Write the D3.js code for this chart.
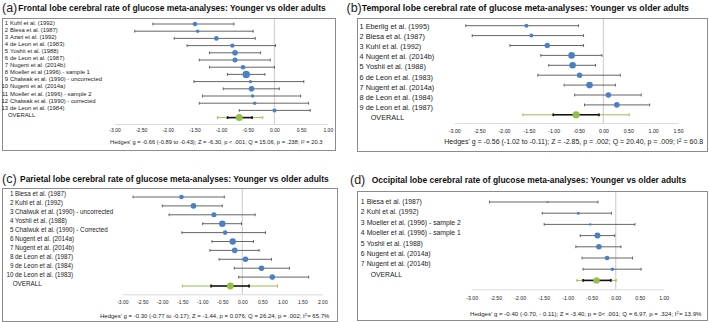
<!DOCTYPE html>
<html lang="en">
<head>
<meta charset="UTF-8">
<title>Cerebral glucose meta-analyses</title>
<script src="https://cdn.jsdelivr.net/npm/d3@7"></script>
<style>
  body { margin: 0; background: #fff; }
  svg { display: block; font-family: "Liberation Sans", Arial, sans-serif; }
</style>
</head>
<body>
<script>
// ---- data ----
// overall rows are [g, ciLow, ciHigh, piLow, piHigh]
const frontalStudies = ["Kuhl et al. (1992)", "Blesa et al. (1987)", "Azari et al. (1992)", "de Leon et al. (1983)",
    "Yoshii et al. (1988)", "de Leon et al. (1987)", "Nugent et al. (2014b)", "Moeller et al (1996) - sample 1",
    "Chalwak et al. (1990) - uncorrected", "Nugent et al. (2014a)", "Moeller et al. (1996) - sample 2",
    "Chalwak et al. (1990) - corrected", "de Leon et al. (1984)"];
const frontalG  = [-1.49, -1.44, -1.09, -0.79, -0.74, -0.74, -0.59, -0.53, -0.45, -0.43, -0.41, -0.37, 0.00];
const frontalLo = [-2.28, -2.62, -1.88, -1.64, -1.22, -1.41, -1.22, -0.88, -1.51, -0.96, -1.35, -1.41, -0.66];
const frontalHi = [-0.76, -0.40, -0.36, 0.02, -0.26, -0.08, 0.00, -0.18, 0.55, 0.09, 0.49, 0.64, 0.67];
const frontalW  = [7.4, 4.0, 7.4, 6.7, 10.9, 8.7, 7.4, 19.0, 4.0, 10.9, 4.0, 4.0, 5.6];
const frontalOverall = [-0.66, -0.88, -0.42, -1.07, -0.22];
const frontalTicks = [-3, -2.5, -2, -1.5, -1, -0.5, 0, 0.5, 1];
const frontalStats = ["Hedges' g = -0.66 (-0.89 to -0.43); Z = -6.30, p < .001; Q = 15.06, p = .238; I", " = 20.3"];

const temporalStudies = ["Eberlig et al. (1995)", "Blesa et al. (1987)", "Kuhl et al. (1992)", "Nugent et al. (2014b)",
    "Yoshii et al. (1988)", "de Leon et al. (1983)", "Nugent et al. (2014a)", "de Leon et al. (1984)", "de Leon et al. (1987)"];
const temporalG  = [-1.55, -1.45, -1.13, -0.64, -0.62, -0.48, -0.28, 0.10, 0.27];
const temporalLo = [-2.77, -2.64, -1.88, -1.26, -1.10, -1.32, -0.79, -0.58, -0.38];
const temporalHi = [-0.50, -0.40, -0.40, -0.03, -0.16, 0.34, 0.24, 0.76, 0.93];
const temporalW  = [5.6, 5.6, 10.3, 15.4, 15.4, 10.3, 15.4, 11, 11];
const temporalOverall = [-0.55, -1.01, -0.09, -1.62, 0.52];
const temporalTicks = [-3, -2.5, -2, -1.5, -1, -0.5, 0, 0.5, 1, 1.5];
const temporalStats = ["Hedges' g = -0.56 (-1.02 to -0.11); Z = -2.85, p = .002; Q = 20.40, p = .009; I", " = 60.8"];

const parietalStudies = ["Blesa et al. (1987)", "Kuhl et al. (1992)", "Chalwuk et al. (1990) - uncorrected",
    "Yoshii et al. (1988)", "Chalwuk et al. (1990) - Corrected", "Nugent et al. (2014a)", "Nugent et al. (2014b)",
    "de Leon et al. (1987)", "de Leon et al. (1984)", "de Leon et al. (1983)"];
const parietalG  = [-1.52, -1.22, -0.71, -0.50, -0.43, -0.24, -0.19, 0.08, 0.48, 0.75];
const parietalLo = [-2.73, -2.00, -1.83, -0.99, -1.51, -0.76, -0.81, -0.58, -0.20, -0.09];
const parietalHi = [-0.45, -0.50, 0.32, -0.02, 0.58, 0.28, 0.42, 0.73, 1.18, 1.66];
const parietalW  = [6.9, 10.2, 8.3, 13.4, 6.9, 13.4, 10.2, 10.2, 10.2, 10.2];
const parietalOverall = [-0.30, -0.78, 0.17, -1.50, 0.88];
const parietalTicks = [-3, -2.5, -2, -1.5, -1, -0.5, 0, 0.5, 1, 1.5, 2];
const parietalStats = ["Hedges' g = -0.30 (-0.77 to -0.17); Z = -1.44, p = 0.076; Q = 26.24, p = .002; I", "= 65.7%"];

const occipitalStudies = ["Blesa et al. (1987)", "Kuhl et al. (1992)", "Moeller et al. (1996) - sample 2",
    "Moeller et al. (1996) - sample 1", "Yoshii et al. (1988)", "Nugent et al. (2014a)", "Nugent et al. (2014b)"];
const occipitalG  = [-1.42, -0.78, -0.53, -0.38, -0.35, -0.18, -0.07];
const occipitalLo = [-2.63, -1.53, -1.49, -0.74, -0.83, -0.70, -0.68];
const occipitalHi = [-0.37, -0.09, 0.40, -0.02, 0.11, 0.35, 0.53];
const occipitalW  = [3.3, 7.5, 4.8, 30, 26, 17.7, 10.7];
const occipitalOverall = [-0.40, -0.68, -0.10, -0.81, 0.01];
const occipitalTicks = [-3, -2.5, -2, -1.5, -1, -0.5, 0, 0.5, 1];
const occipitalStats = ["Hedges' g = -0.40 (-0.70, - 0.11); Z = -3.40, p = 0< .001; Q = 6.97, p = .324; I", "= 13.9%"];

// ---- layout of the four panels ----
const panels = [
    {tag: "(a)", title: "Frontal lobe cerebral rate of glucose meta-analyses: Younger vs older adults",
     studies: frontalStudies, g: frontalG, lo: frontalLo, hi: frontalHi, w: frontalW, overall: frontalOverall,
     ticks: frontalTicks, stats: frontalStats,
     frame: [2, 18, 335, 150], tagX: 2, titleX: 18.3, titleY: 10.8, titleW: 308,
     xRange: [114.5, 327.8], axisY: 124, tickY: 130.7, tickFs: 5,
     rowY0: 24, rowStep: 7.2, labY0: 22.7, labStep: 7.08, labFs: 5.9, numX: 8, nameX: 10, overallX: 8,
     rMax: 3.7, rOverall: 3.5, statsX: 110, statsY: 142.3, statsW: 212.7},
    {tag: "(b)", title: "Temporal lobe cerebral rate of glucose meta-analyses: Younger vs older adults",
     studies: temporalStudies, g: temporalG, lo: temporalLo, hi: temporalHi, w: temporalW, overall: temporalOverall,
     ticks: temporalTicks, stats: temporalStats,
     frame: [357, 18, 707, 151], tagX: 346.5, titleX: 361.7, titleY: 10.8, titleW: 328,
     xRange: [454.3, 678], axisY: 123, tickY: 130.7, tickFs: 5.2,
     rowY0: 25.7, rowStep: 9.9, labY0: 26, labStep: 10.2, labFs: 7.3, numX: 363.5, nameX: 365.7, overallX: 370.7,
     rMax: 3.3, rOverall: 3.6, statsX: 444.3, statsY: 141.7, statsW: 259},
    {tag: "(c)", title: "Parietal lobe cerebral rate of glucose meta-analyses: Younger vs older adults",
     studies: parietalStudies, g: parietalG, lo: parietalLo, hi: parietalHi, w: parietalW, overall: parietalOverall,
     ticks: parietalTicks, stats: parietalStats,
     frame: [2, 188, 337, 321], tagX: 2, titleX: 20, titleY: 181.5, titleW: 309,
     xRange: [122.3, 322.3], axisY: 294.3, tickY: 302, tickFs: 5,
     rowY0: 197, rowStep: 8.9, labY0: 193.3, labStep: 9.0, labFs: 6.3, numX: 13.5, nameX: 15, overallX: 12.7,
     rMax: 3.2, rOverall: 3.4, statsX: 100, statsY: 316, statsW: 230},
    {tag: "(d)", title: "Occipital lobe cerebral rate of glucose meta-analyses: Younger vs older adults",
     studies: occipitalStudies, g: occipitalG, lo: occipitalLo, hi: occipitalHi, w: occipitalW, overall: occipitalOverall,
     ticks: occipitalTicks, stats: occipitalStats,
     frame: [357, 191, 707, 320], tagX: 350, titleX: 371.7, titleY: 182.5, titleW: 315,
     xRange: [471.7, 663.7], axisY: 289.3, tickY: 297.7, tickFs: 5.2,
     rowY0: 202, rowStep: 11.2, labY0: 201.7, labStep: 10.4, labFs: 6.8, numX: 364.5, nameX: 366.7, overallX: 370.7,
     rMax: 3.0, rOverall: 3.2, statsX: 470, statsY: 313.7, statsW: 232}
];

const blue = "#4a80c4", green = "#95bf4a", ciGrey = "#555", cap = 1.4;

const svg = d3.select("body").append("svg")
    .attr("width", 709)
    .attr("height", 322);

// scale a text's font size so it spans the given width
function fit(sel, width) {
    const len = sel.node().getComputedTextLength();
    sel.attr("font-size", +sel.attr("font-size") * width / len);
}

function ciLine(g, x, y, lo, hi, color, sw) {
    g.append("line").attr("x1", x(lo)).attr("x2", x(hi)).attr("y1", y).attr("y2", y)
        .attr("stroke", color).attr("stroke-width", sw);
    [lo, hi].forEach(v => g.append("line")
        .attr("x1", x(v)).attr("x2", x(v)).attr("y1", y - cap).attr("y2", y + cap)
        .attr("stroke", color).attr("stroke-width", sw));
}

function drawPanel(p) {
    const g = svg.append("g");
    const n = p.studies.length;
    const [fx0, fy0, fx1, fy1] = p.frame;

    g.append("rect")
        .attr("x", fx0 + 0.5).attr("y", fy0 + 0.5)
        .attr("width", fx1 - fx0).attr("height", fy1 - fy0)
        .attr("fill", "none").attr("stroke", "#8c8c8c");

    g.append("text").attr("x", p.tagX).attr("y", p.titleY + 1.5)
        .attr("font-size", 12.5).attr("fill", "#222").text(p.tag);
    const title = g.append("text").attr("x", p.titleX).attr("y", p.titleY)
        .attr("font-size", 10).attr("font-weight", "bold").attr("fill", "#111").text(p.title);
    fit(title, p.titleW);

    const x = d3.scaleLinear().domain([p.ticks[0], p.ticks[p.ticks.length - 1]]).range(p.xRange);
    const y = d3.scaleLinear().domain([0, n]).range([p.rowY0, p.rowY0 + n * p.rowStep]);
    const ly = d3.scaleLinear().domain([0, n]).range([p.labY0, p.labY0 + n * p.labStep]);
    const r = d3.scaleSqrt().domain([0, d3.max(p.w)]).range([0, p.rMax]);

    // zero reference line
    g.append("line").attr("x1", x(0)).attr("x2", x(0)).attr("y1", fy0 + 1).attr("y2", p.axisY)
        .attr("stroke", "#d4d4d4").attr("stroke-width", 1.3);

    const axis = g.append("g")
        .attr("transform", `translate(0,${p.axisY})`)
        .call(d3.axisBottom(x).tickValues(p.ticks).tickSize(0).tickSizeOuter(0)
            .tickPadding(p.tickY - p.axisY - 0.36 * p.tickFs)
            .tickFormat(d => d.toFixed(2)));
    axis.select(".domain").attr("stroke", "#d9d9d9");
    axis.selectAll("text").attr("font-size", p.tickFs).attr("font-family", null).attr("fill", "#222");

    // study rows
    p.studies.forEach((s, i) => {
        ciLine(g, x, y(i), p.lo[i], p.hi[i], ciGrey, 0.9);
        g.append("circle").attr("cx", x(p.g[i])).attr("cy", y(i)).attr("r", r(p.w[i])).attr("fill", blue);
        g.append("text").attr("x", p.numX).attr("y", ly(i)).attr("dy", "0.35em")
            .attr("text-anchor", "end").attr("font-size", p.labFs).attr("fill", "#222").text(i + 1);
        g.append("text").attr("x", p.nameX).attr("y", ly(i)).attr("dy", "0.35em")
            .attr("font-size", p.labFs).attr("fill", "#222").text(s);
    });

    // overall row
    const [og, oLo, oHi, pLo, pHi] = p.overall;
    ciLine(g, x, y(n), pLo, pHi, green, 1);
    ciLine(g, x, y(n), oLo, oHi, "#111", 1.6);
    g.append("circle").attr("cx", x(og)).attr("cy", y(n)).attr("r", p.rOverall).attr("fill", green);
    g.append("text").attr("x", p.overallX).attr("y", ly(n)).attr("dy", "0.35em")
        .attr("font-size", p.labFs).attr("fill", "#222").text("OVERALL");

    // summary statistics
    const st = g.append("text").attr("x", p.statsX).attr("y", p.statsY).attr("dy", "0.35em")
        .attr("font-size", 10).attr("fill", "#222");
    st.append("tspan").text(p.stats[0]);
    st.append("tspan").attr("dy", "-0.4em").attr("font-size", "0.7em").text("2");
    st.append("tspan").attr("dy", "0.28em").text(p.stats[1]);
    fit(st, p.statsW);
}

panels.forEach(drawPanel);
</script>
</body>
</html>
